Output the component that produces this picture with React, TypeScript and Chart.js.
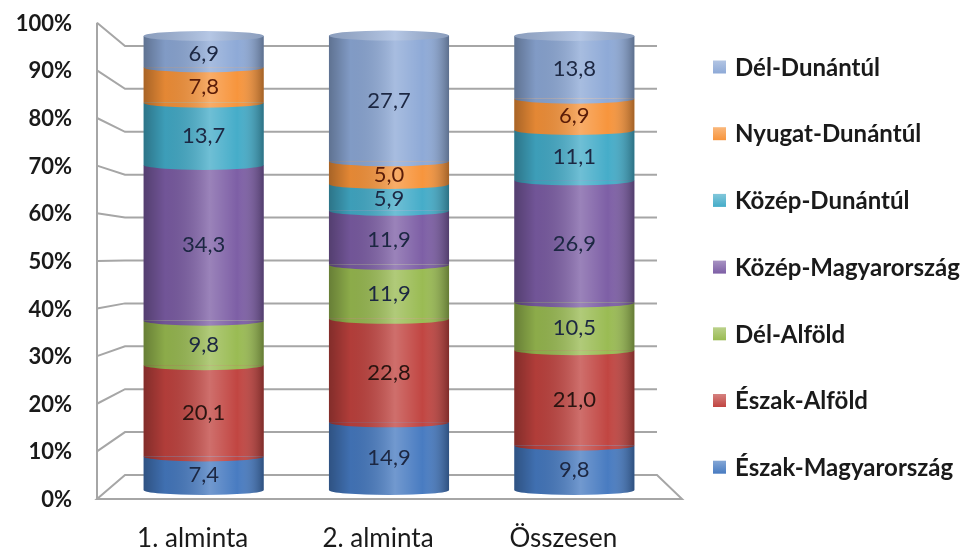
import React, { useEffect, useRef } from 'react';
import { Chart, registerables } from 'chart.js';

Chart.register(...registerables);

const categories = ['1. alminta', '2. alminta', 'Összesen'];
const seriesNames = [
  'Észak-Magyarország',
  'Észak-Alföld',
  'Dél-Alföld',
  'Közép-Magyarország',
  'Közép-Dunántúl',
  'Nyugat-Dunántúl',
  'Dél-Dunántúl',
];
const eszakMagyarorszag = [7.4, 14.9, 9.8];
const eszakAlfold = [20.1, 22.8, 21.0];
const delAlfold = [9.8, 11.9, 10.5];
const kozepMagyarorszag = [34.3, 11.9, 26.9];
const kozepDunantul = [13.7, 5.9, 11.1];
const nyugatDunantul = [7.8, 5.0, 6.9];
const delDunantul = [6.9, 27.7, 13.8];
const seriesData = [eszakMagyarorszag, eszakAlfold, delAlfold, kozepMagyarorszag, kozepDunantul, nyugatDunantul, delDunantul];
const seriesColors = ['#4579C0', '#C0423E', '#98BA50', '#7B5CA4', '#42ABC8', '#F79339', '#8CA8D6'];
const labelColors = ['#1c2742', '#2a1410', '#1c2742', '#1c2742', '#1c2742', '#5a1c08', '#1c2742'];
const yTickValues = [0, 10, 20, 30, 40, 50, 60, 70, 80, 90, 100];

const FONT = 'Lato, "Open Sans", sans-serif';
const TEXT = '#1a1a1a';

function lighten(hex: string, amt: number) {
  const n = parseInt(hex.slice(1), 16);
  const r = (n >> 16) & 255, g = (n >> 8) & 255, b = n & 255;
  const f = (c: number) => Math.round(c + (255 - c) * amt);
  return `rgb(${f(r)},${f(g)},${f(b)})`;
}

function geom(chart: any) {
  const { left, right, bottom } = chart.chartArea;
  const ys = chart.scales.y;
  const frontY = (v: number) => bottom + 9 - (bottom - ys.getPixelForValue(v)) * 1.049;
  const backY = (v: number) => bottom - 15 - (bottom - ys.getPixelForValue(v)) * 0.945;
  return { frontX: left - 14, backX: left + 14, backRight: right - 10, frontRight: right + 15, frontY, backY };
}

const wallsPlugin = {
  id: 'walls3d',
  beforeDatasetsDraw(chart: any) {
    const ctx = chart.ctx;
    const g = geom(chart);
    ctx.save();
    ctx.strokeStyle = '#A6A6A6';
    ctx.lineWidth = 2;
    ctx.lineJoin = 'miter';
    ctx.beginPath();
    ctx.moveTo(g.frontX, g.frontY(0));
    ctx.lineTo(g.frontRight, g.frontY(0));
    ctx.lineTo(g.backRight, g.backY(0));
    ctx.lineTo(g.backX, g.backY(0));
    ctx.closePath();
    ctx.stroke();
    ctx.beginPath();
    ctx.moveTo(g.frontX, g.frontY(100));
    ctx.lineTo(g.frontX, g.frontY(0));
    ctx.stroke();
    const ticks = chart.scales.y.ticks && chart.scales.y.ticks.length ? chart.scales.y.ticks.map((t: any) => t.value) : yTickValues;
    ticks.forEach((v: number) => {
      if (v === 0) return;
      ctx.beginPath();
      ctx.moveTo(g.frontX, g.frontY(v));
      ctx.lineTo(g.backX, g.backY(v));
      ctx.lineTo(g.backRight, g.backY(v));
      ctx.stroke();
    });
    ctx.fillStyle = TEXT;
    ctx.font = `bold 22px ${FONT}`;
    ctx.textAlign = 'right';
    ctx.textBaseline = 'middle';
    ticks.forEach((v: number) => {
      ctx.fillText(`${v}%`, g.frontX - 25, g.frontY(v) + 1);
    });
    ctx.restore();
  },
};

const cylinderPlugin = {
  id: 'cylinders',
  afterDatasetsDraw(chart: any) {
    const ctx = chart.ctx;
    const n = chart.data.datasets.length;
    const first = chart.getDatasetMeta(0);
    const last = chart.getDatasetMeta(n - 1);
    const ry = 5;
    chart.data.labels.forEach((_: any, i: number) => {
      const b0 = first.data[i];
      const bt = last.data[i];
      const x = b0.x, w = b0.width, l = x - w / 2, r = x + w / 2;
      const base = b0.base, top = bt.y;
      ctx.save();
      ctx.beginPath();
      ctx.ellipse(x, base, w / 2, ry, 0, 0, Math.PI);
      ctx.closePath();
      ctx.fillStyle = seriesColors[0];
      ctx.fill();
      for (let d = 1; d < n; d++) {
        const el = chart.getDatasetMeta(d).data[i];
        ctx.beginPath();
        ctx.ellipse(x, el.base, w / 2, ry, 0, 0, Math.PI);
        ctx.closePath();
        ctx.fillStyle = seriesColors[d];
        ctx.fill();
      }
      const grad = ctx.createLinearGradient(l, 0, r, 0);
      grad.addColorStop(0, 'rgba(0,0,0,0.32)');
      grad.addColorStop(0.18, 'rgba(0,0,0,0.08)');
      grad.addColorStop(0.55, 'rgba(255,255,255,0.24)');
      grad.addColorStop(0.78, 'rgba(255,255,255,0.02)');
      grad.addColorStop(1, 'rgba(0,0,0,0.34)');
      ctx.fillStyle = grad;
      ctx.fillRect(l, top, w, base - top);
      ctx.beginPath();
      ctx.ellipse(x, base, w / 2, ry, 0, 0, Math.PI);
      ctx.closePath();
      ctx.fill();
      ctx.beginPath();
      ctx.ellipse(x, top, w / 2, ry, 0, 0, Math.PI * 2);
      ctx.fillStyle = lighten(seriesColors[n - 1], 0.2);
      ctx.fill();
      const g2 = ctx.createLinearGradient(l, 0, r, 0);
      g2.addColorStop(0, 'rgba(0,0,0,0.15)');
      g2.addColorStop(0.55, 'rgba(255,255,255,0.2)');
      g2.addColorStop(1, 'rgba(0,0,0,0.15)');
      ctx.fillStyle = g2;
      ctx.fill();
      ctx.restore();
    });
    ctx.save();
    ctx.font = `22px ${FONT}`;
    ctx.textAlign = 'center';
    ctx.textBaseline = 'middle';
    chart.data.datasets.forEach((ds: any, d: number) => {
      const meta = chart.getDatasetMeta(d);
      meta.data.forEach((el: any, i: number) => {
        const v = ds.data[i];
        ctx.fillStyle = labelColors[d];
        ctx.fillText(v.toFixed(1).replace('.', ','), el.x, (el.y + el.base) / 2 + 2);
      });
    });
    ctx.restore();
  },
};

const legendPlugin = {
  id: 'sideLegend',
  afterDraw(chart: any) {
    const ctx = chart.ctx;
    const n = chart.data.datasets.length;
    const x0 = chart.chartArea.right + 46;
    const y0 = 67;
    const step = 66.7;
    ctx.save();
    ctx.font = `bold 24px ${FONT}`;
    ctx.textAlign = 'left';
    ctx.textBaseline = 'middle';
    for (let j = 0; j < n; j++) {
      const d = n - 1 - j;
      const y = y0 + j * step;
      const col = seriesColors[d];
      const gr = ctx.createLinearGradient(0, y - 7, 0, y + 7);
      gr.addColorStop(0, lighten(col, 0.35));
      gr.addColorStop(1, col);
      ctx.fillStyle = gr;
      ctx.fillRect(x0, y - 6.5, 13, 13);
      ctx.fillStyle = TEXT;
      ctx.fillText(chart.data.datasets[d].label, x0 + 22, y + 1);
    }
    ctx.restore();
  },
};

export default function App() {
  const canvasRef = useRef<HTMLCanvasElement | null>(null);
  useEffect(() => {
    if (!canvasRef.current) return;
    const chart = new Chart(canvasRef.current, {
      type: 'bar',
      data: {
        labels: categories,
        datasets: seriesNames.map((name, k) => ({
          label: name,
          data: seriesData[k],
          backgroundColor: seriesColors[k],
          borderWidth: 0,
          barPercentage: 0.648,
          categoryPercentage: 1,
          clip: false as any,
        })),
      },
      options: {
        responsive: false,
        animation: false,
        layout: { padding: { left: 111, right: 302, top: 36, bottom: -36 } },
        plugins: { legend: { display: false }, tooltip: { enabled: false } },
        scales: {
          x: {
            stacked: true,
            grid: { display: false, drawTicks: false },
            border: { display: false },
            ticks: { font: { family: FONT, size: 26, lineHeight: 1 }, color: TEXT, padding: 36, labelOffset: -11 },
          },
          y: { stacked: true, display: false, min: 0, max: 100, ticks: { stepSize: 10 } },
        },
      },
      plugins: [wallsPlugin, cylinderPlugin, legendPlugin],
    });
    return () => chart.destroy();
  }, []);
  return (
    <div style={{ position: 'fixed', left: 0, top: 0, width: 969, height: 552, background: '#fff' }}>
      <canvas ref={canvasRef} width={969} height={552} style={{ width: 969, height: 552 }} />
    </div>
  );
}
